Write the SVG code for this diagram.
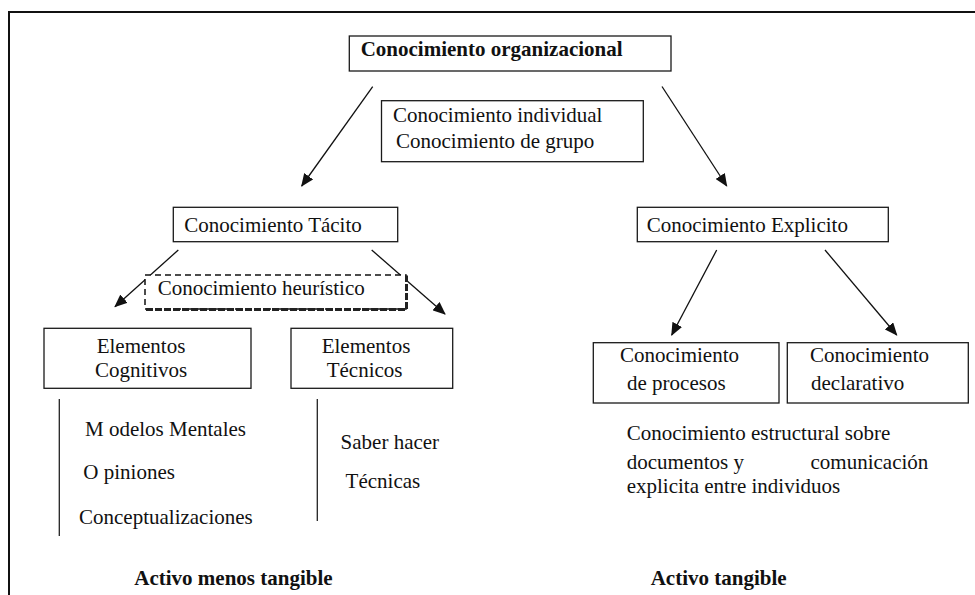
<svg xmlns="http://www.w3.org/2000/svg" width="975" height="595" viewBox="0 0 975 595">
  <style>
    .box { fill: #ffffff; stroke: #1a1a1a; stroke-width: 1.3; }
    .t { font-family: "Liberation Serif", "Times New Roman", serif; font-size: 21px; fill: #111111; }
    .b { font-weight: bold; }
    .conn { stroke: #111111; stroke-width: 1.3; fill: none; marker-end: url(#arrow); }
    .rule { stroke: #222222; stroke-width: 1.3; }
  </style>
  <defs>
    <marker id="arrow" markerUnits="userSpaceOnUse" markerWidth="13" markerHeight="11" refX="12" refY="5.5" orient="auto">
      <path d="M0,0 L13,5.5 L0,11 z" fill="#111111"/>
    </marker>
  </defs>

  <rect width="975" height="595" fill="#ffffff"/>

  <!-- page frame (top and left edges) -->
  <path d="M9,595 L9,12 L975,12" fill="none" stroke="#111111" stroke-width="2"/>

  <!-- connectors -->
  <g id="connectors">
    <line class="conn" x1="372.7" y1="86.7" x2="301.7" y2="186"/>
    <line class="conn" x1="662" y1="86.5" x2="726.7" y2="186"/>
    <line class="conn" x1="178.3" y1="250" x2="115" y2="306.7"/>
    <line class="conn" x1="371.7" y1="250" x2="445" y2="314"/>
    <line class="conn" x1="716.7" y1="250" x2="671.7" y2="335"/>
    <line class="conn" x1="825" y1="250" x2="896.7" y2="335"/>
  </g>

  <g id="organizacional">
    <rect class="box" x="349.3" y="36" width="321.7" height="35" stroke-width="1.6"/>
    <text class="t b" x="360.7" y="56">Conocimiento organizacional</text>
  </g>

  <g id="individual-grupo">
    <rect class="box" x="381.5" y="100.7" width="261.8" height="61"/>
    <text class="t" x="393" y="121.7">Conocimiento individual</text>
    <text class="t" x="396" y="148">Conocimiento de grupo</text>
  </g>

  <g id="tacito">
    <rect class="box" x="173.3" y="207.3" width="224.4" height="34.4"/>
    <text class="t" x="184.3" y="231.7">Conocimiento Tácito</text>
  </g>

  <g id="explicito">
    <rect class="box" x="637.3" y="207.3" width="251" height="34.4"/>
    <text class="t" x="646.7" y="231.7">Conocimiento Explicito</text>
  </g>

  <g id="heuristico">
    <rect x="145" y="275" width="261" height="34" fill="#ffffff" stroke="#111111" stroke-width="1.5" stroke-dasharray="6 4"/>
    <!-- heavy shadowed bottom and right edges -->
    <path d="M146,309.5 L406.5,309.5 L406.5,275.5" fill="none" stroke="#222222" stroke-width="3" stroke-dasharray="7 2"/>
    <text class="t" x="157.7" y="295">Conocimiento heurístico</text>
  </g>

  <g id="cognitivos">
    <rect class="box" x="44" y="328.3" width="207" height="60"/>
    <text class="t" x="96.7" y="352.7">Elementos</text>
    <text class="t" x="95" y="377.3">Cognitivos</text>
  </g>

  <g id="tecnicos">
    <rect class="box" x="291" y="328.3" width="161.7" height="60"/>
    <text class="t" x="321.7" y="352.7">Elementos</text>
    <text class="t" x="326.7" y="377.3">Técnicos</text>
  </g>

  <g id="procesos">
    <rect class="box" x="593.3" y="342.7" width="185.7" height="60.3"/>
    <text class="t" x="620" y="361.7">Conocimiento</text>
    <text class="t" x="627" y="390">de procesos</text>
  </g>

  <g id="declarativo">
    <rect class="box" x="787.3" y="342.7" width="181" height="60.3"/>
    <text class="t" x="810" y="361.7">Conocimiento</text>
    <text class="t" x="811" y="390">declarativo</text>
  </g>

  <g id="cognitivos-lista">
    <line class="rule" x1="59.3" y1="399" x2="59.3" y2="536"/>
    <text class="t" x="85" y="436">M odelos Mentales</text>
    <text class="t" x="83.3" y="479.3">O piniones</text>
    <text class="t" x="79" y="524">Conceptualizaciones</text>
  </g>

  <g id="tecnicos-lista">
    <line class="rule" x1="317.3" y1="399" x2="317.3" y2="521"/>
    <text class="t" x="340.6" y="449">Saber hacer</text>
    <text class="t" x="345.6" y="488">Técnicas</text>
  </g>

  <g id="explicito-descripcion">
    <text class="t" x="626.7" y="440">Conocimiento estructural sobre</text>
    <text class="t" x="626.7" y="469">documentos y</text>
    <text class="t" x="928.3" y="469" text-anchor="end">comunicación</text>
    <text class="t" x="626.7" y="493">explicita entre individuos</text>
  </g>

  <g id="activos">
    <text class="t b" x="134.3" y="585">Activo menos tangible</text>
    <text class="t b" x="650.7" y="585">Activo tangible</text>
  </g>
</svg>
